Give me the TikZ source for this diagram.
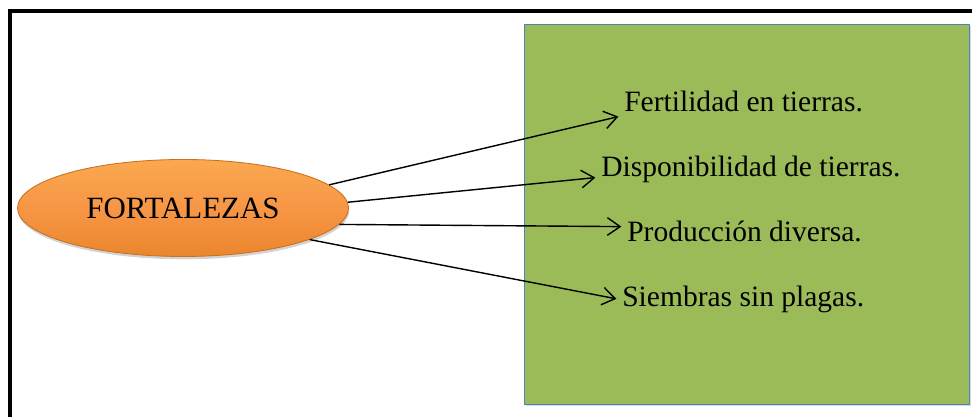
\documentclass[tikz,border=0pt]{standalone}
\usepackage{fontspec}
\setmainfont{Liberation Serif}
\usetikzlibrary{positioning}
\usetikzlibrary{arrows.meta}
\usetikzlibrary{shapes.geometric}
\usetikzlibrary{shadows}
\definecolor{leafgreen}{HTML}{9BBB59}
\definecolor{boxblue}{HTML}{4F81BD}
\definecolor{orangetop}{HTML}{FAA94F}
\definecolor{orangemid}{HTML}{F79646}
\definecolor{orangebot}{HTML}{EA862C}
\definecolor{orangeedge}{HTML}{C8701F}
\tikzset{
  % The orange ellipse holding the heading
  strength/.style={
    ellipse, draw=orangeedge, line width=0.6pt,
    top color=orangetop, bottom color=orangebot, middle color=orangemid,
    minimum width=#1, minimum height=2.425cm, inner sep=0pt,
    drop shadow={opacity=0.35, shadow xshift=0.02cm, shadow yshift=-0.07cm}},
  % The green panel on the right
  panel/.style={
    draw=boxblue, line width=0.7pt, fill=leafgreen,
    drop shadow={opacity=0.3, shadow xshift=0.04cm, shadow yshift=-0.05cm}},
  % One line of text inside the panel
  item/.style={
    anchor=base west, inner sep=4pt, text height=0.7em, text depth=0.22em},
  % Relationships
  points/.style={-{Straight Barb[length=3.2mm, width=4.4mm]}, line width=1pt, draw=black},
  frameline/.style={line width=2.3pt, draw=black},
}

\begin{document}
\begin{tikzpicture}[font=\fontsize{21}{25}\selectfont]

  \useasboundingbox (0,0) rectangle (24.3,10.425);

  \draw[frameline] (0.25,0) -- (0.25,10.15) -- (24.3,10.15);
  \draw[panel] (13.1,0.325) rectangle (24.225,9.825);

  \node[strength=8.275cm, font=\fontsize{22}{26}\selectfont] (fz) at (4.575,5.225) {FORTALEZAS};

  \node[item] (t1) at (15.46,7.625) {Fertilidad en tierras.};
  \node[item] (t2) at (14.885,6.0) {Disponibilidad de tierras.};
  \node[item] (t3) at (15.535,4.375) {Producción diversa.};
  \node[item] (t4) at (15.41,2.75) {Siembras sin plagas.};

  \draw[points] (fz.9) -- ([yshift=-0.2cm]t1.west);
  \draw[points] (fz.2) -- ([yshift=-0.1cm]t2.west);
  \draw[points] (fz.-6) -- ([yshift=0.3cm]t3.west);
  \draw[points] (fz.-14) -- ([yshift=0.12cm]t4.west);

\end{tikzpicture}
\end{document}
